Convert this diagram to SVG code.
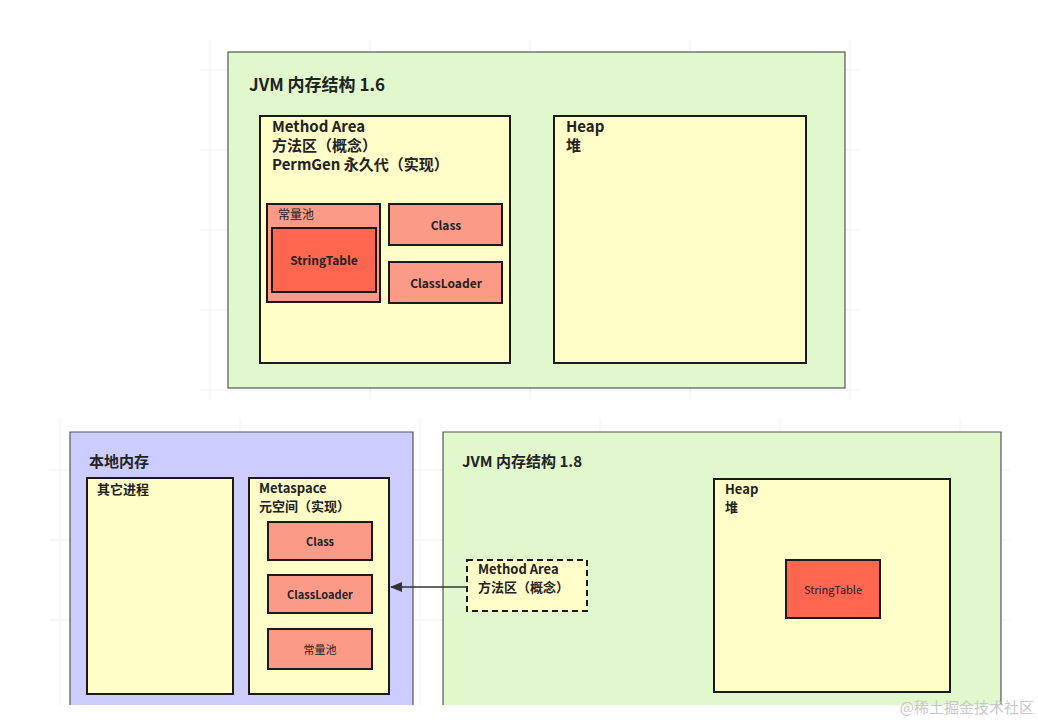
<svg xmlns="http://www.w3.org/2000/svg" width="1038" height="722" viewBox="0 0 1038 722">
<defs>
<style>
text{font-family:"Noto Sans CJK SC","Noto Sans",sans-serif;font-weight:bold;fill:#222}
.green{fill:#e1f8cd;stroke:#555;stroke-width:1.2}
.yellow{fill:#fffdc8;stroke:#1a1a1a;stroke-width:2}
.pink{fill:#fc9a88;stroke:#1a1a1a;stroke-width:2}
.red{fill:#ff6650;stroke:#1a1a1a;stroke-width:2}
.t17{font-size:17px}
.t15{font-size:15px}
.t13{font-size:13px}
.t12{font-size:12px}
.t11{font-size:11px}
.grid{stroke:#f0f0f0;stroke-width:1}
</style>
<marker id="arr" markerWidth="12" markerHeight="10" refX="11" refY="5" orient="auto" markerUnits="userSpaceOnUse">
<path d="M0,0 L12,5 L0,10 Z" fill="#333"/>
</marker>
</defs>
<rect width="1038" height="722" fill="#ffffff"/>
<g id="grid">
<path class="grid" d="M210,40V400 M370,40V400 M530,40V400 M690,40V400 M850,40V400 M200,70H860 M200,150H860 M200,230H860 M200,310H860 M200,390H860"/>
<path class="grid" d="M60,418V705 M240,418V705 M420,418V705 M600,418V705 M780,418V705 M960,418V705 M50,470H1010 M50,540H1010 M50,620H1010"/>
</g>
<g id="jvm16">
<rect class="green" x="228" y="52" width="617" height="336"/>
<text class="t17" x="249" y="91">JVM 内存结构 1.6</text>
</g>
<g id="method-area-16">
<rect class="yellow" x="260" y="116" width="250" height="247"/>
<text class="t15" x="272" y="132">Method Area</text>
<text class="t15" x="272" y="151">方法区（概念）</text>
<text class="t15" x="272" y="170">PermGen 永久代（实现）</text>
</g>
<g id="heap-16">
<rect class="yellow" x="554" y="116" width="252" height="247"/>
<text class="t15" x="566" y="132">Heap</text>
<text class="t15" x="566" y="151">堆</text>
</g>
<g id="pool-16">
<rect class="pink" x="267" y="204" width="113" height="98"/>
<text class="t12" x="278" y="219" style="font-weight:normal">常量池</text>
</g>
<g id="stringtable-16">
<rect class="red" x="272" y="228" width="104" height="64"/>
<text class="t12" x="324" y="265" text-anchor="middle">StringTable</text>
</g>
<g id="class-16">
<rect class="pink" x="389" y="204" width="113" height="41"/>
<text class="t12" x="446" y="230" text-anchor="middle">Class</text>
</g>
<g id="classloader-16">
<rect class="pink" x="389" y="262" width="113" height="41"/>
<text class="t12" x="446" y="288" text-anchor="middle">ClassLoader</text>
</g>
<g id="native">
<rect x="70" y="432" width="343" height="273" fill="#ccccff"/>
<path d="M70,705V432H413V705" fill="none" stroke="#555" stroke-width="1.2"/>
<text class="t15" x="89" y="467">本地内存</text>
</g>
<g id="other-process">
<rect class="yellow" x="87" y="478" width="146" height="216"/>
<text class="t13" x="97" y="494">其它进程</text>
</g>
<g id="metaspace">
<rect class="yellow" x="249" y="478" width="140" height="216"/>
<text class="t13" x="259" y="493">Metaspace</text>
<text class="t13" x="259" y="511">元空间（实现）</text>
</g>
<g id="class-18">
<rect class="pink" x="268" y="522" width="104" height="38"/>
<text class="t11" x="320" y="546" text-anchor="middle">Class</text>
</g>
<g id="classloader-18">
<rect class="pink" x="268" y="575" width="104" height="38"/>
<text class="t11" x="320" y="599" text-anchor="middle">ClassLoader</text>
</g>
<g id="pool-18">
<rect class="pink" x="268" y="629" width="104" height="40"/>
<text class="t11" x="320" y="654" text-anchor="middle" style="font-weight:normal">常量池</text>
</g>
<g id="jvm18">
<rect x="443" y="432" width="558" height="273" fill="#e1f8cd"/>
<path d="M443,705V432H1001V705" fill="none" stroke="#555" stroke-width="1.2"/>
<text class="t15" x="462" y="467">JVM 内存结构 1.8</text>
</g>
<g id="heap-18">
<rect class="yellow" x="714" y="479" width="236" height="213"/>
<text class="t13" x="725" y="494">Heap</text>
<text class="t13" x="725" y="512">堆</text>
</g>
<g id="stringtable-18">
<rect class="red" x="786" y="560" width="94" height="58"/>
<text class="t11" x="833" y="594" text-anchor="middle" style="font-weight:normal">StringTable</text>
</g>
<g id="method-area-18">
<rect x="467" y="560" width="120" height="51" fill="#fffdc8" stroke="#1a1a1a" stroke-width="2" stroke-dasharray="6,4"/>
<text class="t13" x="478" y="574">Method Area</text>
<text class="t13" x="478" y="592">方法区（概念）</text>
</g>
<g id="connectors">
<line x1="467" y1="587" x2="391" y2="587" stroke="#333" stroke-width="1.5" marker-end="url(#arr)"/>
</g>
<text x="1034" y="713" text-anchor="end" style="font-size:15px;font-weight:normal;fill:#c8c8c8">@稀土掘金技术社区</text>
</svg>
